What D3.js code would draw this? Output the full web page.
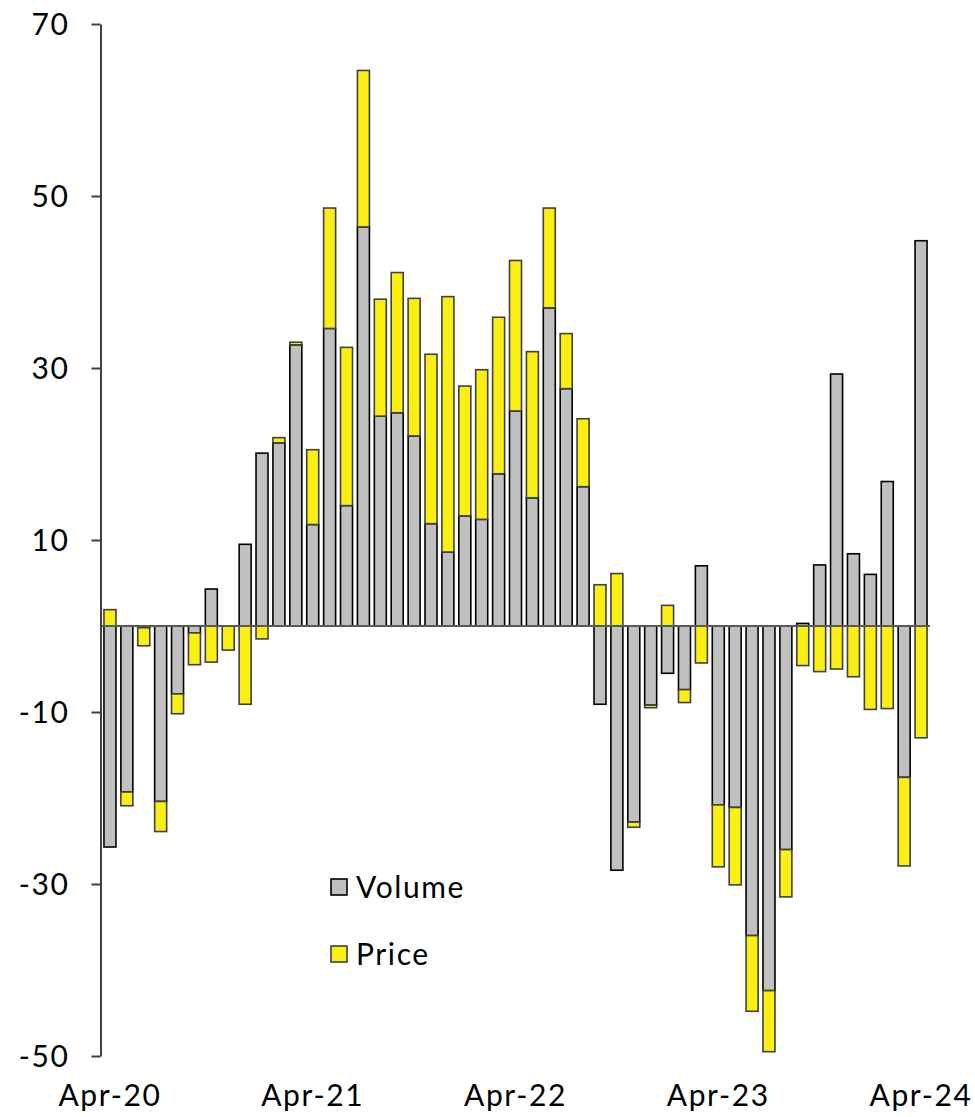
<!DOCTYPE html>
<html>
<head>
<meta charset="utf-8">
<script src="https://cdn.jsdelivr.net/npm/d3@7"></script>
<style>
  html, body { margin: 0; padding: 0; background: #fff; }
  svg { display: block; font-family: "Lato", "Open Sans", sans-serif; }
</style>
</head>
<body>
<svg id="chart" width="975" height="1117"></svg>
<script>
const months = ["Apr-20","May-20","Jun-20","Jul-20","Aug-20","Sep-20","Oct-20","Nov-20","Dec-20",
  "Jan-21","Feb-21","Mar-21","Apr-21","May-21","Jun-21","Jul-21","Aug-21","Sep-21","Oct-21","Nov-21","Dec-21",
  "Jan-22","Feb-22","Mar-22","Apr-22","May-22","Jun-22","Jul-22","Aug-22","Sep-22","Oct-22","Nov-22","Dec-22",
  "Jan-23","Feb-23","Mar-23","Apr-23","May-23","Jun-23","Jul-23","Aug-23","Sep-23","Oct-23","Nov-23","Dec-23",
  "Jan-24","Feb-24","Mar-24","Apr-24"];
const volume = [-25.7,-19.3,-0.2,-20.4,-7.9,-0.8,4.3,0,9.5,
  20.1,21.3,32.7,11.8,34.6,14.0,46.4,24.4,24.8,22.1,11.9,8.6,
  12.8,12.4,17.7,25.0,14.9,37.0,27.6,16.2,-9.1,-28.4,-22.8,-9.2,
  -5.5,-7.4,7.0,-20.8,-21.1,-36.0,-42.4,-26.0,0.3,7.1,29.3,8.4,
  6.0,16.8,-17.6,44.8];
const price = [1.9,-1.6,-2.1,-3.5,-2.3,-3.7,-4.2,-2.8,-9.1,
  -1.5,0.6,0.3,8.7,14.0,18.4,18.2,13.6,16.3,16.0,19.7,29.7,
  15.1,17.4,18.2,17.5,17.0,11.6,6.4,7.9,4.8,6.1,-0.6,-0.3,
  2.4,-1.5,-4.3,-7.2,-9.0,-8.8,-7.1,-5.5,-4.6,-5.3,-5.0,-5.9,
  -9.7,-9.6,-10.3,-13.0];
const yTicks = [-50,-30,-10,10,30,50,70];
const xLabelMonths = ["Apr-20","Apr-21","Apr-22","Apr-23","Apr-24"];
const seriesKeys = ["volume","price"];
const seriesNames = {volume: "Volume", price: "Price"};
const colors = {volume: "#c0c0c0", price: "#fbef12"};
const strokes = {volume: "#000000", price: "#404040"};

const FONT = "Lato, 'Open Sans', sans-serif";
const FS = 30;
const LS = "1.6px";

const svg = d3.select("#chart");
const axisX = 100.5;

const x = d3.scaleBand().domain(months).range([101.5, 929.5]).paddingInner(0.29).paddingOuter(0.145);
const y = d3.scaleLinear().domain([-50, 70]).range([1056, 24]);

const table = months.map((m, i) => ({month: m, volume: volume[i], price: price[i]}));
const stacked = d3.stack().keys(seriesKeys).offset(d3.stackOffsetDiverging)(table);

const g = svg.append("g");
stacked.forEach(s => {
  g.selectAll(null).data(s).join("rect")
    .attr("x", d => x(d.data.month))
    .attr("width", x.bandwidth())
    .attr("y", d => y(Math.max(d[0], d[1])))
    .attr("height", d => Math.abs(y(d[0]) - y(d[1])))
    .attr("fill", colors[s.key])
    .attr("stroke", strokes[s.key])
    .attr("stroke-width", 1.6);
});

// zero line
svg.append("line")
  .attr("x1", axisX).attr("x2", 930)
  .attr("y1", y(0)).attr("y2", y(0))
  .attr("stroke", "#595959").attr("stroke-width", 2);

// y axis
const yAxis = svg.append("g")
  .attr("transform", `translate(${axisX},0)`)
  .call(d3.axisLeft(y).tickValues(yTicks).tickSize(9).tickSizeOuter(0).tickPadding(22).tickFormat(d => String(d)));
yAxis.select(".domain").attr("stroke", "#404040").attr("stroke-width", 2);
yAxis.selectAll(".tick line").attr("stroke", "#404040").attr("stroke-width", 2);
yAxis.selectAll(".tick text").attr("font-size", FS).attr("fill", "#000")
  .attr("font-family", FONT).attr("letter-spacing", LS).attr("dy", "0.36em");

// x axis labels
const xAxis = svg.append("g")
  .attr("transform", `translate(0,1080)`)
  .call(d3.axisBottom(x).tickValues(xLabelMonths).tickSize(0).tickPadding(5));
xAxis.select(".domain").remove();
xAxis.selectAll(".tick text").attr("font-size", FS).attr("fill", "#000")
  .attr("font-family", FONT).attr("letter-spacing", LS);

// legend
const legend = svg.append("g");
seriesKeys.forEach((k, i) => {
  const ly = 887 + i * 67;
  legend.append("rect")
    .attr("x", 331).attr("y", ly - 8).attr("width", 16).attr("height", 16)
    .attr("fill", colors[k]).attr("stroke", strokes[k]).attr("stroke-width", 1.6);
  legend.append("text")
    .attr("x", 356).attr("y", ly).attr("dy", "0.36em")
    .attr("font-size", FS).attr("letter-spacing", LS).attr("fill", "#000")
    .text(seriesNames[k]);
});
</script>
</body>
</html>
